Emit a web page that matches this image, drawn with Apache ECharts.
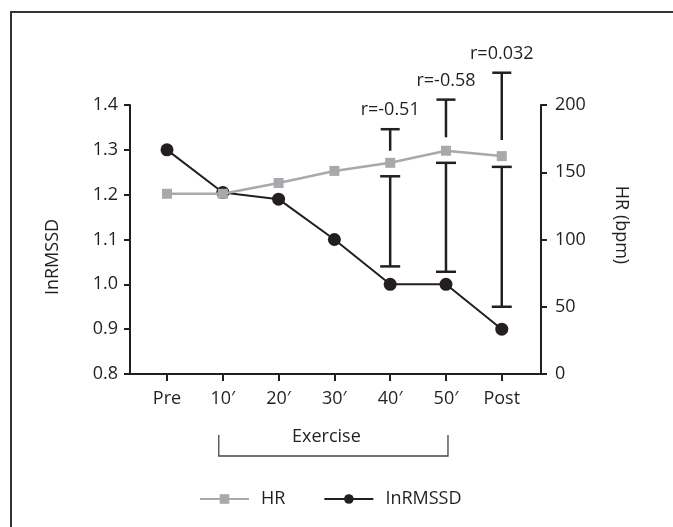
<!DOCTYPE html>
<html>
<head>
<meta charset="utf-8">
<script src="https://cdn.jsdelivr.net/npm/echarts@6/dist/echarts.min.js"></script>
<style>
html,body{margin:0;padding:0;background:#fff}
#main{width:673px;height:527px}
</style>
</head>
<body>
<div id="main"></div>
<script>
var timePoints = ['Pre', '10′', '20′', '30′', '40′', '50′', 'Post'];
var hrValues = [134, 134, 142, 151, 157, 166, 162];
var lnValues = [1.30, 1.205, 1.19, 1.10, 1.00, 1.00, 0.90];
// whiskers at 40', 50', Post (bpm)
var barAt = [4, 5, 6];
var sdBase = [166, 176, 174];
var sdTop = [182, 204, 224];
var rangeLow = [80, 76, 50];
var rangeHigh = [147, 157, 154];
var rLabels = ['r=-0.51', 'r=-0.58', 'r=0.032'];
var exerciseSpan = [1, 5];

var ink = '#231f20';
var grey = '#a7a9ac';
var fnt = 'Open Sans';

var chart = echarts.init(document.getElementById('main'));

function renderT(params, api) {
  var x = api.value(0);
  var b = api.coord([x, api.value(1)]);
  var t = api.coord([x, api.value(2)]);
  var st = {stroke: ink, lineWidth: 2.5};
  return {type: 'group', children: [
    {type: 'line', shape: {x1: t[0], y1: t[1], x2: b[0], y2: b[1]}, style: st},
    {type: 'line', shape: {x1: t[0] - 9.5, y1: t[1], x2: t[0] + 9.5, y2: t[1]}, style: st},
    {type: 'text', x: t[0], y: t[1] - 19, style: {text: rLabels[params.dataIndex], fill: ink,
      font: '18px "' + fnt + '"', align: 'center', verticalAlign: 'middle'}}
  ]};
}

function renderI(params, api) {
  var x = api.value(0);
  var lo = api.coord([x, api.value(1)]);
  var hi = api.coord([x, api.value(2)]);
  var st = {stroke: ink, lineWidth: 2.5};
  return {type: 'group', children: [
    {type: 'line', shape: {x1: hi[0], y1: hi[1], x2: lo[0], y2: lo[1]}, style: st},
    {type: 'line', shape: {x1: hi[0] - 10, y1: hi[1], x2: hi[0] + 10, y2: hi[1]}, style: st},
    {type: 'line', shape: {x1: lo[0] - 10, y1: lo[1], x2: lo[0] + 10, y2: lo[1]}, style: st}
  ]};
}

var option = {
  animation: false,
  textStyle: {fontFamily: fnt, color: ink},
  grid: {left: 130, right: 132, top: 105, bottom: 153},
  xAxis: {
    type: 'value', min: -0.663, max: 6.703,
    splitLine: {show: false},
    axisLine: {onZero: false, lineStyle: {color: ink, width: 2}},
    axisTick: {length: 7, lineStyle: {color: ink, width: 2}, customValues: [0, 1, 2, 3, 4, 5, 6]},
    axisLabel: {customValues: [0, 1, 2, 3, 4, 5, 6], margin: 16, fontSize: 18, color: ink, fontFamily: fnt,
      formatter: function (v) { return timePoints[Math.round(v)]; }}
  },
  yAxis: [{
    type: 'value', min: 0.8, max: 1.4, interval: 0.1,
    splitLine: {show: false},
    axisLine: {show: true, onZero: false, lineStyle: {color: ink, width: 2}},
    axisTick: {show: true, length: 6, lineStyle: {color: ink, width: 2}},
    axisLabel: {margin: 12, fontSize: 18, color: ink, fontFamily: fnt,
      formatter: function (v) { return v.toFixed(1); }}
  }, {
    type: 'value', min: 0, max: 200, interval: 50, position: 'right',
    splitLine: {show: false},
    axisLine: {show: true, onZero: false, lineStyle: {color: ink, width: 2}},
    axisTick: {show: true, length: 6, lineStyle: {color: ink, width: 2}},
    axisLabel: {margin: 14, fontSize: 18, color: ink, fontFamily: fnt}
  }],
  legend: {
    left: 194, top: 485, itemWidth: 49, itemHeight: 12, itemGap: 38,
    textStyle: {fontSize: 18, color: ink, fontFamily: fnt, padding: [0, 0, 0, 7]},
    data: ['HR', 'InRMSSD']
  },
  series: [{
    name: 'InRMSSD', type: 'line', yAxisIndex: 0, z: 2,
    data: lnValues.map(function (v, i) { return [i, v]; }),
    symbol: 'circle', symbolSize: 13,
    itemStyle: {color: ink}, lineStyle: {color: ink, width: 2}
  }, {
    name: 'HR', type: 'line', yAxisIndex: 1, z: 3,
    data: hrValues.map(function (v, i) { return [i, v]; }),
    symbol: 'rect', symbolSize: 10,
    itemStyle: {color: grey}, lineStyle: {color: grey, width: 2.5}
  }, {
    type: 'custom', yAxisIndex: 1, clip: false, z: 4,
    data: barAt.map(function (x, i) { return [x, sdBase[i], sdTop[i]]; }),
    renderItem: renderT
  }, {
    type: 'custom', yAxisIndex: 1, clip: false, z: 4,
    data: barAt.map(function (x, i) { return [x, rangeLow[i], rangeHigh[i]]; }),
    renderItem: renderI
  }]
};
chart.setOption(option);

var xa = chart.convertToPixel({xAxisIndex: 0}, exerciseSpan[0]);
var xb = chart.convertToPixel({xAxisIndex: 0}, exerciseSpan[1]);
chart.setOption({
  graphic: [
    {type: 'rect', shape: {x: 11, y: 12, width: 700, height: 600}, style: {fill: 'none', stroke: '#333', lineWidth: 2}, silent: true},
    {type: 'polyline', shape: {points: [[xa - 4, 435], [xa - 4, 456], [xb + 2, 456], [xb + 2, 435]]},
      style: {fill: 'none', stroke: '#444', lineWidth: 1.3}},
    {type: 'text', x: (xa + xb) / 2 - 8, y: 437, style: {text: 'Exercise', fill: ink, font: '18px "' + fnt + '"', align: 'center', verticalAlign: 'middle'}},
    {type: 'text', x: 53, y: 257, rotation: Math.PI / 2, style: {text: 'InRMSSD', fill: ink, font: '18px "' + fnt + '"', align: 'center', verticalAlign: 'middle'}},
    {type: 'text', x: 621, y: 225, rotation: -Math.PI / 2, style: {text: 'HR (bpm)', fill: ink, font: '18px "' + fnt + '"', align: 'center', verticalAlign: 'middle'}}
  ]
});
</script>
</body>
</html>
